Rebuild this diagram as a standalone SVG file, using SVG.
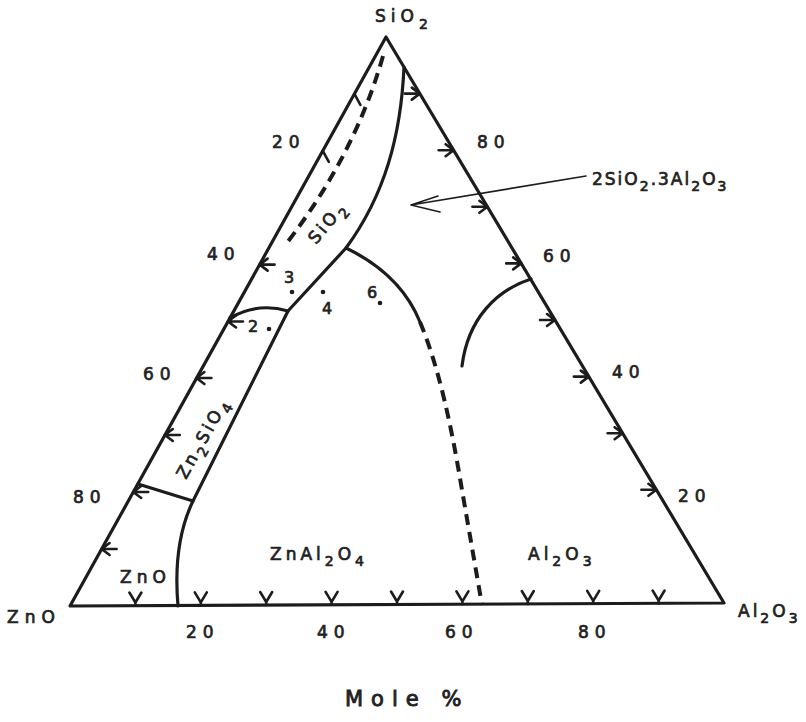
<svg xmlns="http://www.w3.org/2000/svg" xmlns:xlink="http://www.w3.org/1999/xlink" width="806" height="722" viewBox="0 0 806 722">
<style>
.ln{fill:none;stroke:#1c1c1c;stroke-width:3.2;stroke-linecap:round;stroke-linejoin:round}
.ds{fill:none;stroke:#1c1c1c;stroke-width:4;stroke-dasharray:11 7}
.tk{fill:none;stroke:#1c1c1c;stroke-width:2.6;stroke-linecap:round;stroke-linejoin:round}
.thin{fill:none;stroke:#1c1c1c;stroke-width:1.6;stroke-linecap:round;stroke-linejoin:round}
text{font-family:"DejaVu Sans","Liberation Sans",sans-serif;font-size:17px;fill:#222;stroke:#222;stroke-width:0.7px}
.sub{font-size:14px}
.n{letter-spacing:6px}
</style>
<defs>
<path id="tL" class="tk" d="M0,0 H15 M8,-6 L0,0 L8,6"/>
<path id="tR" class="tk" d="M0,0 H-15 M-8,-6 L0,0 L-8,6"/>
<path id="tB" class="tk" d="M-6,-13 L0,-3 L6,-13 M0,-3 V0"/>
<path id="tS" class="tk" d="M0,0 L6,11"/>
</defs>
<rect width="806" height="722" fill="#fff"/>
<g id="frame">
<path class="ln" d="M70,606 L386,37 L724,603 Z"/>
</g>
<g id="ticks">
<use href="#tL" x="101.6" y="549"/>
<use href="#tL" x="133.2" y="492"/>
<use href="#tL" x="164.8" y="435"/>
<use href="#tL" x="196.4" y="378"/>
<use href="#tL" x="228" y="321.5"/>
<use href="#tL" x="259.6" y="264.6"/>
<use href="#tS" x="322.8" y="150.8"/>
<use href="#tS" x="354.4" y="93.9"/>
<use href="#tR" x="419.8" y="93.6"/>
<use href="#tR" x="453.6" y="150.2"/>
<use href="#tR" x="487.4" y="206.8"/>
<use href="#tR" x="521.2" y="263.4"/>
<use href="#tR" x="555" y="320"/>
<use href="#tR" x="588.8" y="376.6"/>
<use href="#tR" x="622.6" y="433.2"/>
<use href="#tR" x="656.4" y="489.8"/>
<use href="#tB" x="135.4" y="605.5"/>
<use href="#tB" x="200.8" y="605.3"/>
<use href="#tB" x="266.2" y="605"/>
<use href="#tB" x="331.6" y="604.8"/>
<use href="#tB" x="397" y="604.5"/>
<use href="#tB" x="462.4" y="604.3"/>
<use href="#tB" x="527.8" y="604"/>
<use href="#tB" x="593.2" y="603.8"/>
<use href="#tB" x="658.6" y="603.5"/>
</g>
<g id="connectors">
<path class="ln" d="M404,67 C401,135 385,195 346,248 L288,311 L193,501 C180,528 174,560 178,606"/>
<path class="ln" d="M230,318 Q258,302 288,311"/>
<path class="ln" d="M138,484 L193,501"/>
<path class="ln" d="M346,248 C375,262 405,285 420,322"/>
<path class="ds" d="M420,322 C440,370 452,430 462,490 L482,605"/>
<path class="ln" d="M531,279 C497,290 468,318 462,366"/>
<path class="ds" d="M383,56 Q355,155 286,244"/>
<path class="thin" d="M586,176 L411,205 M438,196 L411,205 L440,212"/>
</g>
<g id="points" fill="#1c1c1c">
<circle cx="269" cy="329" r="2.3"/>
<circle cx="292" cy="292" r="2.3"/>
<circle cx="323" cy="292" r="2.3"/>
<circle cx="380" cy="303" r="2.3"/>
</g>
<g id="labels">
<text x="375" y="22" letter-spacing="5">SiO<tspan class="sub" dy="7">2</tspan></text>
<text x="7" y="623" letter-spacing="6">ZnO</text>
<text x="738" y="617" letter-spacing="3">Al<tspan class="sub" dy="6">2</tspan><tspan dy="-6">O</tspan><tspan class="sub" dy="6">3</tspan></text>
<text class="n" x="272" y="148">20</text>
<text class="n" x="207" y="260">40</text>
<text class="n" x="143" y="380">60</text>
<text class="n" x="73" y="503">80</text>
<text class="n" x="477" y="148">80</text>
<text class="n" x="543" y="262">60</text>
<text class="n" x="612" y="378">40</text>
<text class="n" x="678" y="502">20</text>
<text class="n" x="186" y="638">20</text>
<text class="n" x="317" y="638">40</text>
<text class="n" x="445" y="638">60</text>
<text class="n" x="578" y="638">80</text>
<text x="345" y="706" style="font-size:21px;stroke-width:0.9px" letter-spacing="8">Mole %</text>
<text x="592" y="185" letter-spacing="2">2SiO<tspan class="sub" dy="6">2</tspan><tspan dy="-6">.3Al</tspan><tspan class="sub" dy="6">2</tspan><tspan dy="-6">O</tspan><tspan class="sub" dy="6">3</tspan></text>
<text x="270" y="560" letter-spacing="4">ZnAl<tspan class="sub" dy="6">2</tspan><tspan dy="-6">O</tspan><tspan class="sub" dy="6">4</tspan></text>
<text x="528" y="560" letter-spacing="4">Al<tspan class="sub" dy="6">2</tspan><tspan dy="-6">O</tspan><tspan class="sub" dy="6">3</tspan></text>
<text x="120" y="583" letter-spacing="5">ZnO</text>
<text transform="translate(316,245) rotate(-50)" letter-spacing="3">SiO<tspan class="sub" dy="6">2</tspan></text>
<text transform="translate(186,480) rotate(-61)" letter-spacing="3">Zn<tspan class="sub" dy="6">2</tspan><tspan dy="-6">SiO</tspan><tspan class="sub" dy="6">4</tspan></text>
<text x="284" y="283" style="font-size:16px">3</text>
<text x="248" y="332" style="font-size:16px">2</text>
<text x="322" y="314" style="font-size:16px">4</text>
<text x="367" y="298" style="font-size:16px">6</text>
</g>
</svg>
